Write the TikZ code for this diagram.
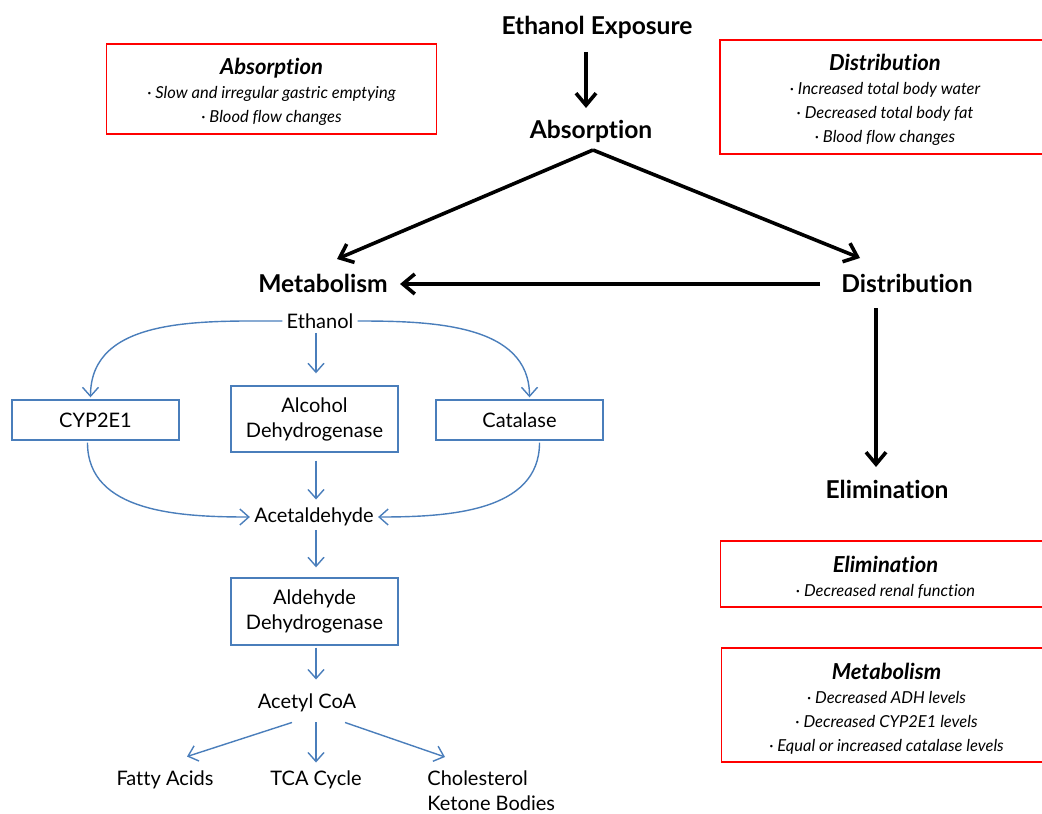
\documentclass[tikz,border=0pt]{standalone}
\usepackage{fontspec}
\setmainfont{Lato}[Ligatures=NoCommon]
\usetikzlibrary{positioning, arrows.meta, calc}

\definecolor{pathblue}{HTML}{4A7EBB}
\definecolor{boxred}{HTML}{FF0000}

\begin{document}
\begin{tikzpicture}[x=0.5pt, y=-0.5pt,
  stage/.style={font=\bfseries\fontsize{12.3}{14}\selectfont, anchor=base, inner sep=0pt},
  note/.style={draw=boxred, line width=0.6pt, align=center, minimum width=165pt,
    font=\itshape\fontsize{8.25}{12}\selectfont},
  enzyme/.style={draw=pathblue, line width=0.7pt, align=center, minimum width=83.5pt,
    font=\fontsize{10}{12.5}\selectfont},
  chem/.style={font=\fontsize{10}{12.5}\selectfont, inner sep=2pt},
  mainarrow/.style={line width=1.8pt, -{Straight Barb[length=6pt, width=10pt]}},
  flow/.style={draw=pathblue, line width=0.7pt, -{Straight Barb[length=4.5pt, width=8pt]}}
]
  \useasboundingbox (0,0) rectangle (1042,813);

  % Stages of ethanol handling
  \node[stage] (expo) at (597,35) {Ethanol Exposure};
  \node[stage] (absn) at (591,138) {Absorption};
  \node[stage] (metab) at (323,292) {Metabolism};
  \node[stage] (dist) at (907,292) {Distribution};
  \node[stage] (elim) at (887,498) {Elimination};

  \draw[mainarrow] ($(expo.base)+(-11,17)$) -- ($(absn.base)+(-5,-30)$);
  \draw[mainarrow] ($(absn.base)+(2,12)$) -- ($(metab.base)+(14,-33)$);
  \draw[mainarrow] ($(absn.base)+(2,12)$) -- ($(dist.base)+(-47,-34)$);
  \draw[mainarrow] ($(dist.base)+(-87,-8)$) -- ($(metab.base)+(77,-8)$);
  \draw[mainarrow] ($(dist.base)+(-31,16)$) -- ($(elim.base)+(-11,-31)$);

  % Red notes
  \node[note, minimum height=45pt] (absnote) at (271.5,89)
    {\rule{0pt}{11.5pt}{\bfseries\fontsize{11}{12}\selectfont Absorption}\\
     · Slow and irregular gastric emptying\\
     · Blood flow changes};
  \node[note, minimum height=57pt] (distnote) at (885,97)
    {\rule{0pt}{11.5pt}{\bfseries\fontsize{11}{12}\selectfont Distribution}\\
     · Increased total body water\\
     · Decreased total body fat\\
     · Blood flow changes};
  \node[note, minimum height=33pt] (elimnote) at (885.5,574)
    {\rule{0pt}{11.5pt}{\bfseries\fontsize{11}{12}\selectfont Elimination}\\
     · Decreased renal function};
  \node[note, minimum height=57pt] (metabnote) at (886.5,705)
    {\rule{0pt}{11.5pt}{\bfseries\fontsize{11}{12}\selectfont Metabolism}\\
     · Decreased ADH levels\\
     · Decreased CYP2E1 levels\\
     · Equal or increased catalase levels};

  % Metabolic pathway
  \node[chem] (ethanol) at (320,321) {Ethanol};
  \node[enzyme, minimum height=20pt] (cyp) at (95.5,420) {CYP2E1};
  \node[enzyme, minimum height=33pt] (adh) at (314.5,419) {Alcohol\\Dehydrogenase};
  \node[enzyme, minimum height=20pt] (cat) at (519.5,420) {Catalase};
  \node[chem] (acet) at (314,517) {Acetaldehyde};
  \node[enzyme, minimum height=33.5pt] (aldh) at (314.5,611.5) {Aldehyde\\Dehydrogenase};
  \node[chem] (acoa) at (307,703) {Acetyl CoA};
  \node[chem] (fatty) at (165,780) {Fatty Acids};
  \node[chem] (tca) at (316,780) {TCA Cycle};
  \node[chem, align=left, anchor=north west] (chol) at (423,766) {Cholesterol\\Ketone Bodies};

  \draw[flow] (ethanol.west) to[out=180, in=90] ($(cyp.north)+(-5,-2)$);
  \draw[flow] ($(ethanol.south)+(-4,0)$) -- ($(adh.north)+(1.5,-12)$);
  \draw[flow] (ethanol.east) to[out=0, in=90] ($(cat.north)+(10,-2)$);
  \draw[flow] ($(cyp.south)+(-8,2)$) to[out=270, in=180] (acet.west);
  \draw[flow] ($(cat.south)+(20,2)$) to[out=270, in=0] (acet.east);
  \draw[flow] ($(adh.south)+(1.5,8)$) -- ($(acet.north)+(2,-4)$);
  \draw[flow] ($(acet.south)+(2,0)$) -- ($(aldh.north)+(1.5,-10)$);
  \draw[flow] ($(aldh.south)+(1.5,2)$) -- ($(acoa.north)+(9,-10)$);
  \draw[flow] ($(acoa.south)+(-15,6)$) -- ($(fatty.north)+(22,-10)$);
  \draw[flow] ($(acoa.south)+(9,6)$) -- ($(tca.north)+(0,-4)$);
  \draw[flow] ($(acoa.south)+(38,6)$) -- ($(chol.north west)+(22,-9)$);
\end{tikzpicture}
\end{document}
